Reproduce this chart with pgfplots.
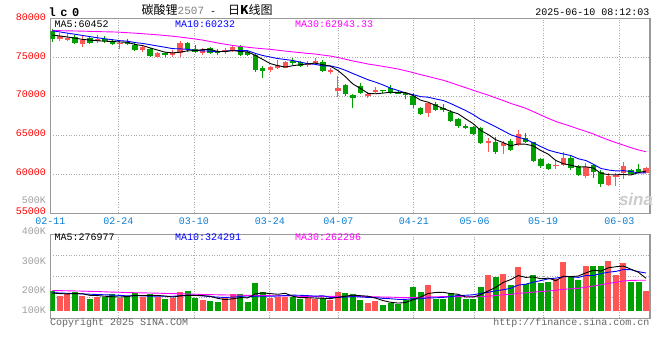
\documentclass[border=0pt]{standalone}
\usepackage{pgfplots}
\pgfplotsset{compat=1.18}
\usepackage{pgfplotstable}
\usepackage{fontspec}
\setmainfont{Liberation Mono}
\setmonofont{Liberation Mono}
\newfontfamily\cjk{Noto Sans CJK SC}
\newfontfamily\sansf{Liberation Sans}
\definecolor{upc}{HTML}{FF5555}
\definecolor{dnc}{HTML}{00A000}
\definecolor{datec}{HTML}{0A7FD5}
\definecolor{gridc}{HTML}{AAAAAA}
\definecolor{framec}{HTML}{999999}
\definecolor{labgray}{HTML}{A0A0A0}
\definecolor{mac}{HTML}{FF00FF}
\newcommand\f{\fontsize{10bp}{12bp}\selectfont}

\pgfplotstableread{
i o h l c v
1 77350 78120 77180 77780 181.9
2 77350 78120 77180 77480 188.7
4 76710 77780 76420 77260 181.9
6 77220 77900 76840 77350 177.6
9 76710 77260 76110 76920 176.2
12 75980 76490 75720 76410 177.6
14 75120 75770 75040 75550 177.6
16 75420 75980 75040 75550 176.2
17 75550 77180 75120 76840 196.4
20 75640 76190 75340 75980 168.5
23 75760 76190 75460 75980 177.6
24 75890 76620 75770 76410 188.7
29 73410 73950 73200 73750 176.2
30 73650 74700 73550 74000 177.6
31 73700 74600 73600 74450 177.6
34 74050 74600 73800 74260 176.2
35 74260 74900 74100 74560 171.8
37 73200 73700 72850 73410 168.5
38 70750 72680 69980 71140 196.4
42 70110 70540 69850 70280 159.3
43 70620 71180 70410 70840 165.1
50 67925 69340 67410 69120 219.0
58 63985 64710 62910 64285 252.8
60 63685 64330 62570 64070 256.2
62 63771 65700 63640 65180 280.8
67 61070 61840 60640 61200 238.3
68 61200 62900 61070 62050 297.6
71 59790 61415 59570 60900 283.1
74 58630 60130 58500 59790 301.0
75 59750 60130 58500 59900 252.8
76 60130 61630 59360 61070 294.3
79 60216 60990 60215 60770 199.8
}\upT

\pgfplotstableread{
i o h l c v
0 78460 78630 77050 77350 198.8
3 77690 77900 76700 76840 196.4
5 77480 77780 76750 76920 171.8
7 77390 77780 76840 77140 177.6
8 77180 77350 76620 76710 188.7
10 77000 77350 76620 76710 181.9
11 76620 76840 75890 75980 193.1
13 76060 76190 75040 75210 188.7
15 75550 75770 75120 75340 171.8
18 76840 77050 75770 76060 198.8
19 76150 76620 75550 75720 176.2
21 76190 76300 75500 75640 165.1
22 75890 76060 75340 75550 161.7
25 76490 76620 75210 75340 188.7
26 75760 75900 75200 75340 161.7
27 75340 75550 73190 73410 226.8
28 73620 73920 72420 73320 196.4
32 74560 75000 74050 74260 177.6
33 74480 74600 73850 73970 171.8
36 74480 74700 73200 73330 176.2
39 71480 71600 70100 70280 193.1
40 70200 70300 68480 69850 188.7
41 71350 71700 70300 70500 168.5
44 70840 70900 70410 70710 151.6
45 71050 71480 70280 70410 159.3
46 70540 70750 70280 70370 155.0
47 70410 70620 69680 70200 168.5
48 70110 70410 68480 68910 213.3
49 68570 68700 67630 67750 196.4
51 69000 69250 68140 68270 171.8
52 68480 69000 67970 68350 171.8
53 68000 68250 66750 66900 191.1
54 67130 67300 65980 66210 185.3
55 66250 66500 65800 65910 171.8
56 66130 66250 65050 65180 171.8
57 65910 66040 63850 63985 213.3
59 64114 64840 62620 62830 245.0
61 64285 64500 63000 63130 219.0
63 64628 65270 63990 64110 222.4
64 64114 64200 61600 61760 252.8
65 61929 62060 60860 61120 224.8
66 61330 61500 60500 60690 230.2
69 62100 62350 60550 60770 245.0
70 61070 61200 59780 59920 235.9
72 61200 61300 59490 60350 283.1
73 60345 60500 58420 58760 283.1
77 60600 60700 59950 60040 230.2
78 60700 61350 60250 60300 230.2
}\dnT

\pgfplotstableread{
i m5 m10 m30 vm5 vm10 vm30
0 77900 78450 78480 192 193 200
1 77780 78300 78460 190 192 200
2 77650 78150 78440 189 191 199.5
3 77500 78000 78420 190 190 199
4 77342 77850 78400 189.5 189 198.5
5 77256 77700 78370 184.1 188 197.5
6 77170 77550 78340 183.3 187 197
7 77102 77420 78320 181.1 186 196
8 77076 77300 78300 179.5 185 195
9 77008 77175 78260 178.4 184.0 194.5
10 76966 77111 78200 180.4 182.3 193.5
11 76692 76931 78140 183.5 183.4 193
12 76546 76824 78070 183.5 182.3 192.5
13 76246 76661 78000 183.5 181.5 192
14 75972 76490 77930 183.8 181.1 191.5
15 75698 76332 77840 181.8 181.1 190.5
16 75612 76152 77750 178.4 180.9 190
17 75698 76122 77640 182.1 182.8 189.5
18 75868 76057 77520 184.2 183.8 188.5
19 75902 75937 77390 183.9 183.8 188
20 76030 75864 77250 183.2 182.5 187
21 76048 75830 77070 181.0 179.7 186.5
22 75790 75744 76880 174.1 178.1 186
23 75774 75821 76720 169.8 177.0 185.5
24 75912 75907 76560 172.3 178.1 185
25 75784 75907 76440 176.4 179.8 184.5
26 75724 75886 76330 175.7 178.3 184
27 75296 75543 76230 188.7 181.4 183.5
28 74764 75269 76140 192.5 181.1 183.2
29 74232 75072 76061 190.0 181.1 183.0
30 73964 74874 75950 187.7 182.1 182.3
31 73786 74755 75839 190.9 183.3 182.1
32 73956 74626 75731 181.1 184.9 181.8
33 74086 74425 75636 176.2 184.3 180.9
34 74188 74210 75536 176.2 183.1 180.7
35 74300 74132 75457 175.0 181.4 180.7
36 74076 73931 75323 174.7 182.8 180.7
37 73906 73931 75199 172.9 177.0 180.4
38 73340 73713 75013 177.8 177.0 180.7
39 72544 73366 74792 181.2 178.7 181.2
40 71602 72951 74563 184.6 179.8 181.4
41 71036 72556 74380 183.0 178.9 180.6
42 70410 72158 74176 181.2 177.1 180.0
43 70350 71845 74030 174.9 176.4 179.2
44 70436 71490 73869 166.6 173.9 178.4
45 70548 71075 73705 160.8 172.7 177.9
46 70522 70779 73532 158.1 170.6 177.2
47 70506 70458 73311 159.9 170.6 176.3
48 70120 70235 73072 169.5 172.2 176.8
49 69528 69982 72807 178.5 172.6 177.5
50 69270 69909 72578 190.4 175.6 179.1
51 68850 69686 72332 193.8 175.9 179.4
52 68480 69493 72092 194.5 177.2 179.7
53 68078 69099 71790 190.0 179.8 180.2
54 67770 68649 71450 187.8 183.2 180.0
55 67128 68199 71135 178.4 184.4 179.5
56 66510 67680 70797 178.4 186.1 179.8
57 65637 67059 70483 186.7 190.6 179.4
58 65114 66596 70181 199.0 194.5 181.2
59 64438 66104 69817 210.9 199.4 183.5
60 64070 65599 69486 227.8 203.1 186.2
61 63660 65085 69109 237.3 207.8 187.5
62 63899 64768 68806 250.8 218.7 191.0
63 63864 64489 68478 244.7 221.8 192.7
64 63650 64044 68061 246.2 228.6 195.2
65 63060 63565 67613 240.0 233.9 197.0
66 62572 63116 67192 242.2 239.7 198.8
67 61776 62838 66785 233.7 242.2 201.1
68 61364 62614 66482 248.7 246.7 204.5
69 61166 62408 66165 247.2 246.7 206.2
70 60926 61993 65834 249.4 244.7 207.8
71 60968 61770 65514 260.0 251.1 211.6
72 60798 61287 65183 268.9 251.3 215.7
73 60140 60752 64780 266.0 257.4 219.7
74 59944 60555 64416 277.2 262.2 224.7
75 59940 60433 64066 280.6 265.0 227.8
76 59974 60471 63756 282.9 271.4 232.4
77 59912 60355 63417 272.3 270.6 234.5
78 60220 60180 63130 261.7 263.9 235.0
79 60416 60180 62897 241.5 259.4 235.1
}\maT

\pgfplotsset{
  kax/.style={
    scale only axis, anchor=south west, width=599.7bp,
    xmin=-0.27, xmax=79.53,
    axis line style={draw=framec, line width=1.1bp},
    major tick length=0pt,
    grid=major,
    grid style={draw=gridc, line width=0.8bp, dash pattern=on 1bp off 1.6bp},
    xtick={-0.27,8.8,18.85,28.95,38.05,48.1,56.2,65.3,75.45},
    scaled ticks=false,
    clip=true,
  },
  eb/.style n args={2}{draw=none, mark=none, forget plot,
    error bars/.cd, y dir=both, y explicit, error mark=none,
    error bar style={line width=#1, draw=#2, solid, line cap=butt}},
}

\begin{document}
\begin{tikzpicture}[x=1bp,y=1bp]
\fill[white] (0,0) rectangle (660,360);
\path[use as bounding box] (0,0) rectangle (660,360);

% price panel
\begin{axis}[kax, at={(50.3bp,146.8bp)}, height=194.5bp,
  ymin=55000, ymax=80000,
  ytick={55000,60000,65000,70000,75000,80000},
  yticklabels={55000,60000,65000,70000,75000,80000},
  yticklabel style={text=red, font=\f, anchor=east, inner sep=0pt, xshift=-4.3bp, yshift=1.8bp},
  xticklabels={02-11,02-24,03-10,03-24,04-07,04-21,05-06,05-19,06-03},
  xticklabel style={text=datec, font=\f, anchor=center, inner sep=0pt, yshift=-8.1bp},
]
\addplot[eb={1bp}{upc}] table[x=i, y expr={(\thisrow{h}+\thisrow{l})/2}, y error expr={(\thisrow{h}-\thisrow{l})/2}] {\upT};
\addplot[eb={1bp}{dnc}] table[x=i, y expr={(\thisrow{h}+\thisrow{l})/2}, y error expr={(\thisrow{h}-\thisrow{l})/2}] {\dnT};
\addplot[eb={5.4bp}{upc}] table[x=i, y expr={(\thisrow{o}+\thisrow{c})/2}, y error expr={max(abs(\thisrow{c}-\thisrow{o})/2,64)}] {\upT};
\addplot[eb={5.4bp}{dnc}] table[x=i, y expr={(\thisrow{o}+\thisrow{c})/2}, y error expr={max(abs(\thisrow{c}-\thisrow{o})/2,64)}] {\dnT};
\addplot[mac, line width=0.9bp, mark=none] table[x=i, y=m30] {\maT};
\addplot[blue, line width=0.9bp, mark=none] table[x=i, y=m10] {\maT};
\addplot[black, line width=0.9bp, mark=none] table[x=i, y=m5] {\maT};
\end{axis}

% volume panel
\begin{axis}[kax, at={(50.3bp,41.7bp)}, height=84bp,
  ymin=106.7, ymax=390,
  ytick={177.6,248.4,319.2}, yticklabels={},
  xticklabels={},
]
\addplot[eb={6bp}{upc}] table[x=i, y expr={(\thisrow{v}+132)/2}, y error expr={(\thisrow{v}-132)/2}] {\upT};
\addplot[eb={6bp}{dnc}] table[x=i, y expr={(\thisrow{v}+132)/2}, y error expr={(\thisrow{v}-132)/2}] {\dnT};
\addplot[mac, line width=0.9bp, mark=none] table[x=i, y=vm30] {\maT};
\addplot[blue, line width=0.9bp, mark=none] table[x=i, y=vm10] {\maT};
\addplot[black, line width=0.9bp, mark=none] table[x=i, y=vm5] {\maT};
\end{axis}

% header texts
\node[anchor=base west, inner sep=0, font=\fontsize{12bp}{14bp}\selectfont\bfseries] at (48.5,344) {l\hspace{4.5bp}c\hspace{4.5bp}0};
\node[anchor=base west, inner sep=0] at (141.5,345.3) {\fontsize{12bp}{14bp}\selectfont\cjk 碳酸锂{\fontsize{11bp}{12bp}\selectfont\ttfamily\color{black!50}2507}{\f\ttfamily\ -\ \ }\cjk 日\textbf{K}线图};
\node[anchor=base east, inner sep=0, font=\f] at (649.5,344.3) {2025-06-10 08:12:03};

% MA labels
\node[anchor=base west, inner sep=0, font=\f, text=black] at (54.5,332.7) {MA5:60452};
\node[anchor=base west, inner sep=0, font=\f, text=blue] at (175,332.7) {MA10:60232};
\node[anchor=base west, inner sep=0, font=\f, text=mac] at (295,332.7) {MA30:62943.33};
\node[anchor=base west, inner sep=0, font=\f, text=black] at (54.5,119.3) {MA5:276977};
\node[anchor=base west, inner sep=0, font=\f, text=blue] at (175,119.3) {MA10:324291};
\node[anchor=base west, inner sep=0, font=\f, text=mac] at (295,119.3) {MA30:262296};

% volume scale labels
\node[anchor=east, inner sep=0, font=\f, text=labgray] at (46,160) {500K};
\node[anchor=east, inner sep=0, font=\f, text=labgray] at (46,129) {400K};
\node[anchor=east, inner sep=0, font=\f, text=labgray] at (46,98.7) {300K};
\node[anchor=east, inner sep=0, font=\f, text=labgray] at (46,69.7) {200K};
\node[anchor=east, inner sep=0, font=\f, text=labgray] at (46,49.7) {100K};

% footer
\node[anchor=base west, inner sep=0, font=\f, text=black!60] at (50,34.5) {Copyright 2025 SINA.COM};
\node[anchor=base east, inner sep=0, font=\f, text=black!60] at (649.5,34.5) {http://finance.sina.com.cn};

% watermark
\node[inner sep=0, font=\sansf\bfseries\itshape\fontsize{17bp}{17bp}\selectfont, text=black!20] at (636,161) {sina};
\end{tikzpicture}
\end{document}
